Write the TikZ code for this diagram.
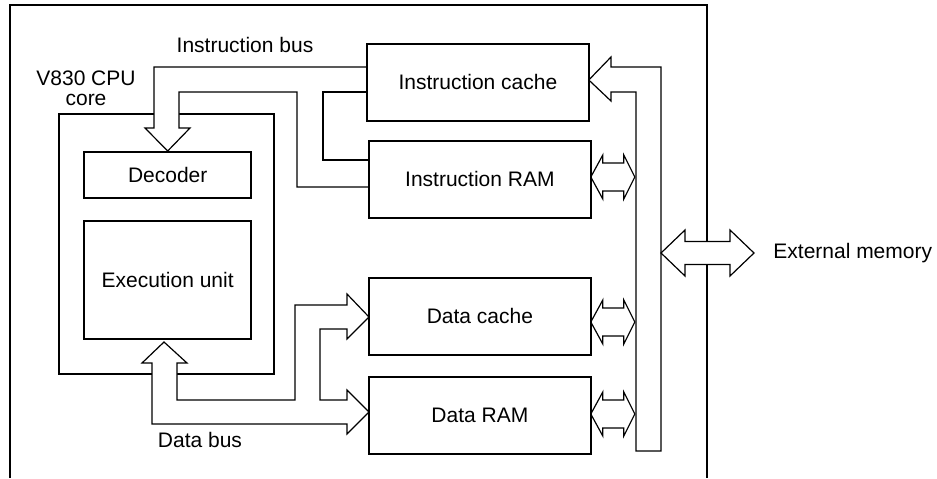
\documentclass[tikz,border=0pt]{standalone}
\usepackage{fontspec}
\setmainfont{Liberation Sans}

\begin{document}
\begin{tikzpicture}[x=0.5pt, y=-0.5pt, font=\fontsize{10.5}{10}\selectfont]
    \tikzstyle{block} = [rectangle, draw, line width=1.2pt, inner sep=0pt, anchor=north west, text centered]
    \tikzstyle{mem} = [rectangle, inner sep=0pt, anchor=north west, minimum width=110.5pt, minimum height=38pt, text centered]
    \tikzstyle{bus} = [draw, fill=white, line width=0.6pt, line join=miter]
    \tikzstyle{wire} = [draw, line width=0.6pt]
    \tikzstyle{label} = [inner sep=0pt, align=center]

    \useasboundingbox (0,0) rectangle (937,478);

    % Outer frame
    \draw [line width=1.3pt] (10,478) -- (10,5) -- (707,5) -- (707,478);

    % CPU core
    \node [block, minimum width=107.5pt, minimum height=130pt] (core) at (58,113) {};
    \node [label] (corelbl) at (86,88) {V830 CPU\\core};

    % Decoder
    \node [block, minimum width=83.5pt, minimum height=23pt] (decoder) at (83,151) {Decoder};

    % Execution unit
    \node [block, minimum width=83.5pt, minimum height=59pt] (exec) at (83,220) {Execution unit};

    % Memories
    \node [mem] (icache) at (367,44) {Instruction cache};
    \node [mem] (iram) at (369,141) {Instruction RAM};
    \node [mem] (dcache) at (369,278) {Data cache};
    \node [mem] (dram) at (369,377) {Data RAM};

    % Instruction bus
    \node [label] (ibus) at (245,45) {Instruction bus};
    \draw [bus] (icache.west |- 0,67) -- (154,67) -- (154,128) -- (145,128) -- (decoder.north)
        -- (190,128) -- (179,128) -- (179,92) -- (297,92) -- (297,187) -- (iram.west |- 0,187);
    \draw [wire] (icache.west |- 0,92) -- (323,92) -- (323,160) -- (iram.west |- 0,160);

    % Data bus
    \node [label] (dbus) at (200,440) {Data bus};
    \draw [bus] (164,342) -- (187,363) -- (177,363) -- (177,400) -- (295,400) -- (295,305)
        -- (347,305) -- (347,294) -- (dcache.west |- 0,317) -- (347,339) -- (347,329) -- (320,329)
        -- (320,400) -- (347,400) -- (347,390) -- (dram.west |- 0,412) -- (347,434) -- (347,424)
        -- (152,424) -- (152,363) -- (142,363) -- cycle;

    % External bus
    \draw [bus] (icache.east |- 0,80) -- (611,57) -- (611,67) -- (661,67) -- (661,451) -- (636,451)
        -- (636,92) -- (611,92) -- (611,101) -- cycle;
    \foreach \m/\y in {iram/177, dcache/322, dram/414}
        \draw [bus] (\m.east |- 0,\y) -- ++(12,-22) -- ++(0,8) -- ++(21,0) -- ++(0,-8) -- ++(11,22)
            -- ++(-11,22) -- ++(0,-8) -- ++(-21,0) -- ++(0,8) -- cycle;

    % External memory
    \node [label, anchor=west] (extmem) at (773,253) {External memory};
    \draw [bus] ([xshift=-9.5pt]extmem.west) -- ++(-24,-23) -- ++(0,11.5) -- ++(-45,0) -- ++(0,-11.5)
        -- ++(-24,23) -- ++(24,23) -- ++(0,-11.5) -- ++(45,0) -- ++(0,11.5) -- cycle;

    % Memory outlines
    \foreach \m in {icache, iram, dcache, dram}
        \draw [line width=1.2pt] (\m.north west) rectangle (\m.south east);
\end{tikzpicture}
\end{document}
